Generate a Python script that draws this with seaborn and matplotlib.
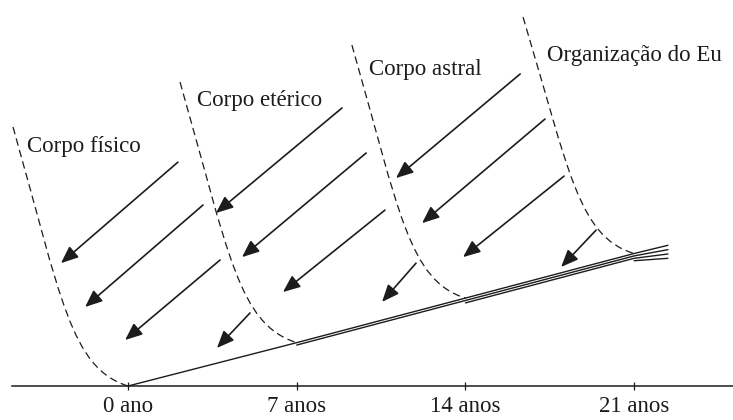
import numpy as np
import pandas as pd
import matplotlib
matplotlib.use("Agg")
import matplotlib.pyplot as plt
from matplotlib.path import Path
from matplotlib.patches import PathPatch
import seaborn as sns

# --- Data (x = years, y = level of development, arbitrary units) ---
knee_years = [0, 7, 14, 21]
knee_levels = [0.0, 1.8, 3.65, 5.5]
tick_labels = ["0 ano", "7 anos", "14 anos", "21 anos"]
end_year = 22.4
end_level = 5.72

body_labels = ["Corpo físico", "Corpo etérico", "Corpo astral", "Organização do Eu"]
label_x = [-4.19, 2.86, 10.0, 17.39]
label_y = [9.92, 11.83, 13.15, 13.73]

# top of each dashed boundary curve (bottom is the matching knee)
curve_top_x = [-4.77, 2.16, 9.29, 16.39]
curve_top_y = [10.75, 12.61, 14.15, 15.31]

# influence arrows (tail -> tip)
arrow_tail_x = [2.07, 3.11, 3.82, 8.88, 9.88, 10.66, 5.06, 16.27, 17.30, 18.09, 11.95, 19.42]
arrow_tail_y = [9.29, 7.51, 5.23, 11.54, 9.67, 7.30, 3.03, 12.95, 11.08, 8.71, 5.10, 6.47]
arrow_tip_x = [-2.78, -1.78, -0.12, 3.65, 4.73, 6.43, 3.69, 11.12, 12.20, 13.90, 10.54, 17.97]
arrow_tip_y = [5.10, 3.28, 1.91, 7.18, 5.35, 3.90, 1.58, 8.63, 6.76, 5.35, 3.49, 4.94]

# --- Style ---
sns.set_theme(style="white")
plt.rcParams['font.family'] = ['Liberation Serif', 'DejaVu Serif']
ink = "#1c1c1c"
text_size = 16.5

fig = plt.figure(figsize=(7.33, 4.20), dpi=100)
ax = fig.add_axes([0, 0, 1, 1])
ax.set_xlim(-5.31, 25.1)
ax.set_ylim(-1.41, 16.02)

# --- Growth line: one strand per stage, each new strand joins at its knee ---
gap = 0.1
for k in range(len(knee_years)):
    xs = list(knee_years[k:]) + [end_year]
    ys = [lv - k * gap for lv in knee_levels[k:]] + [end_level + 0.12 - k * gap * 1.8]
    seg = pd.DataFrame({"year": xs, "level": ys})
    sns.lineplot(data=seg, x="year", y="level", sort=False, estimator=None,
                 color=ink, lw=1.0, ax=ax)

# --- Dashed boundary curves ---
for tx, ty, ex, ey in zip(curve_top_x, curve_top_y, knee_years, knee_levels):
    dx, dy = ex - tx, ty - ey
    verts = [(tx, ty),
             (tx + 0.42 * dx, ty - 0.66 * dy),
             (tx + 0.50 * dx, ty - 0.93 * dy),
             (ex, ey)]
    codes = [Path.MOVETO, Path.CURVE4, Path.CURVE4, Path.CURVE4]
    ax.add_patch(PathPatch(Path(verts, codes), fill=False, edgecolor=ink,
                           lw=0.9, linestyle=(0, (6, 3.5))))

# --- Arrows ---
for x0, y0, x1, y1 in zip(arrow_tail_x, arrow_tail_y, arrow_tip_x, arrow_tip_y):
    ax.annotate("", xy=(x1, y1), xytext=(x0, y0),
                arrowprops=dict(arrowstyle="-|>,head_length=0.55,head_width=0.23",
                                mutation_scale=19, color=ink, lw=1.2,
                                shrinkA=0, shrinkB=0))

# --- Labels ---
for name, lx, ly in zip(body_labels, label_x, label_y):
    ax.text(lx, ly, name, ha="left", va="center", fontsize=text_size, color=ink)

# --- Time axis ---
for s in ["top", "right", "left"]:
    ax.spines[s].set_visible(False)
ax.spines["bottom"].set_position(("data", 0))
ax.spines["bottom"].set_bounds(-4.8, 25.1)
ax.spines["bottom"].set_color(ink)
ax.spines["bottom"].set_linewidth(1.1)
ax.set_xticks(knee_years)
ax.set_xticklabels(tick_labels)
ax.tick_params(axis="x", direction="inout", length=6, width=0.9, colors=ink,
               labelsize=text_size, pad=4, bottom=True)
ax.set_yticks([])
ax.set_xlabel("")
ax.set_ylabel("")

fig.savefig("out.png", dpi=100, facecolor="white")
